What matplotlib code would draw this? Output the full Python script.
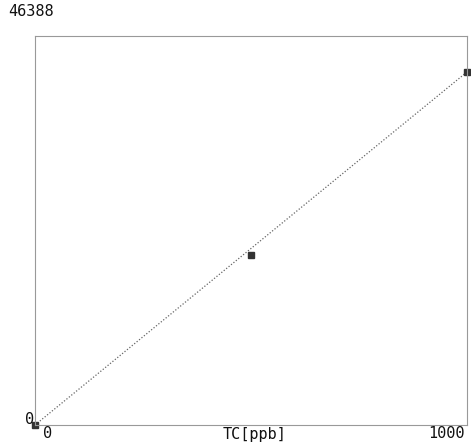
import numpy as np
import matplotlib.pyplot as plt

# calibration points
conc = [0, 500, 1000]          # TC [ppb]
area = [0, 20300, 42100]       # detector response
y_max = 46388
x_max = 1000

# calibration line from origin through the top standard
slope = area[-1] / conc[-1]
fit_x = np.array([0, x_max])
fit_y = slope * fit_x

fig = plt.figure(figsize=(4.71, 4.42), dpi=100)
ax = fig.add_axes([35 / 471, 17 / 442, 432 / 471, 389 / 442])

ax.plot(fit_x, fit_y, color='#666666', lw=0.9, ls=(0, (1, 1.5)))
ax.plot(conc, area, ls='none', marker='s', ms=4, color='#333333', clip_on=False)

ax.set_xlim(0, x_max)
ax.set_ylim(0, y_max)
ax.set_xticks([])
ax.set_yticks([])
for s in ax.spines.values():
    s.set_color('#999999')
    s.set_linewidth(0.8)
    s.set_linestyle((0, (1, 1)))

fnt = dict(family='DejaVu Sans Mono', fontsize=11, color='#111111')
fig.text(8 / 471, 1 - 12 / 442, str(y_max), ha='left', va='center', **fnt)
fig.text(30 / 471, 1 - 420 / 442, '0', ha='center', va='center', **fnt)
fig.text(48 / 471, 1 - 434 / 442, '0', ha='center', va='center', **fnt)
fig.text(255 / 471, 1 - 434 / 442, 'TC[ppb]', ha='center', va='center', **fnt)
fig.text(446 / 471, 1 - 434 / 442, '1000', ha='center', va='center', **fnt)

fig.savefig('out.png', dpi=100)
